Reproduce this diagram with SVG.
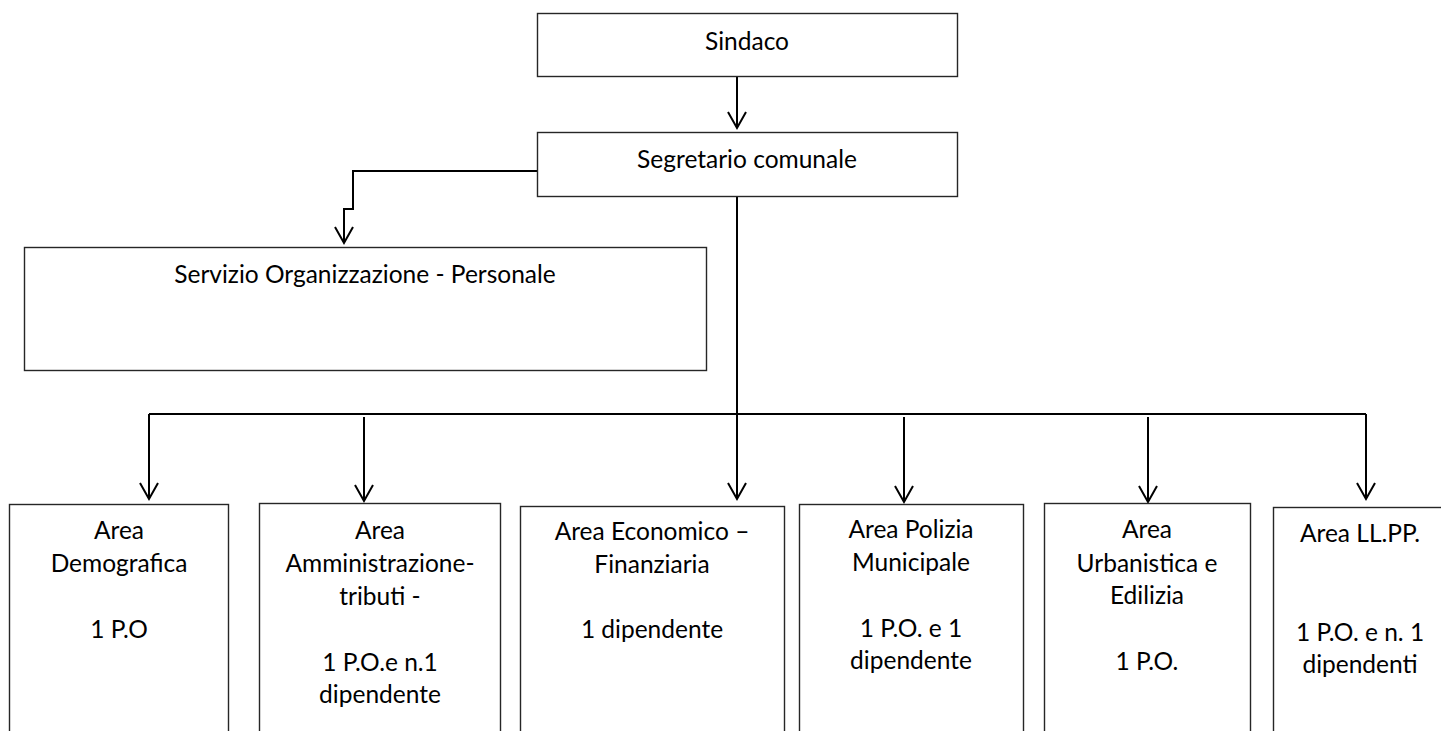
<svg xmlns="http://www.w3.org/2000/svg" width="1441" height="731" viewBox="0 0 1441 731">
<style>
.box{fill:#fff;stroke:#262626;stroke-width:1.4}
.t{font-family:Lato,"Liberation Sans",sans-serif;font-size:24.5px;fill:#000;text-anchor:middle}
.c{fill:none;stroke:#000;stroke-width:2}
</style>
<defs>
<marker id="arr" markerUnits="userSpaceOnUse" markerWidth="22" markerHeight="22" viewBox="-18 -11 22 22" refX="0" refY="0" orient="auto">
<path d="M-16,-9 L0,0 L-16,9" fill="none" stroke="#000" stroke-width="2"/>
</marker>
</defs>
<rect width="1441" height="731" fill="#fff"/>
<g id="connectors">
<path class="c" d="M737,76 V128" marker-end="url(#arr)"/>
<path class="c" d="M537,171 H353 V209 H344 V243" marker-end="url(#arr)"/>
<path class="c" d="M737,197 V499" marker-end="url(#arr)"/>
<path class="c" d="M149,414 H1366"/>
<path class="c" d="M149,414 V499" marker-end="url(#arr)"/>
<path class="c" d="M1366,414 V499" marker-end="url(#arr)"/>
<path class="c" d="M364,417 V501" marker-end="url(#arr)"/>
<path class="c" d="M904,417 V502" marker-end="url(#arr)"/>
<path class="c" d="M1148,417 V502" marker-end="url(#arr)"/>
</g>
<g id="sindaco">
<rect class="box" x="537.5" y="13.5" width="420" height="63"/>
<text class="t" x="747" y="50">Sindaco</text>
</g>
<g id="segretario">
<rect class="box" x="537.5" y="132.5" width="420" height="64"/>
<text class="t" x="747" y="168">Segretario comunale</text>
</g>
<g id="servizio">
<rect class="box" x="24.5" y="247.5" width="682" height="123"/>
<text class="t" x="365" y="283">Servizio Organizzazione - Personale</text>
</g>
<g id="demografica">
<rect class="box" x="9.5" y="504.5" width="219" height="240"/>
<text class="t" x="119" y="539">Area</text>
<text class="t" x="119" y="572">Demografica</text>
<text class="t" x="119" y="638">1 P.O</text>
</g>
<g id="amministrazione">
<rect class="box" x="259.5" y="503.5" width="241" height="240"/>
<text class="t" x="380" y="539">Area</text>
<text class="t" x="380" y="572">Amministrazione-</text>
<text class="t" x="380" y="605">tributi -</text>
<text class="t" x="380" y="671">1 P.O.e n.1</text>
<text class="t" x="380" y="703">dipendente</text>
</g>
<g id="economico">
<rect class="box" x="520.5" y="506.5" width="264" height="240"/>
<text class="t" x="652" y="540">Area Economico –</text>
<text class="t" x="652" y="573">Finanziaria</text>
<text class="t" x="652" y="638">1 dipendente</text>
</g>
<g id="polizia">
<rect class="box" x="799.5" y="504.5" width="224" height="240"/>
<text class="t" x="911" y="538">Area Polizia</text>
<text class="t" x="911" y="571">Municipale</text>
<text class="t" x="911" y="637">1 P.O. e 1</text>
<text class="t" x="911" y="669">dipendente</text>
</g>
<g id="urbanistica">
<rect class="box" x="1044.5" y="503.5" width="206" height="240"/>
<text class="t" x="1147" y="538">Area</text>
<text class="t" x="1147" y="572">Urbanistica e</text>
<text class="t" x="1147" y="604">Edilizia</text>
<text class="t" x="1147" y="670">1 P.O.</text>
</g>
<g id="llpp">
<rect class="box" x="1273.5" y="507.5" width="174" height="240"/>
<text class="t" x="1360" y="542">Area LL.PP.</text>
<text class="t" x="1360" y="641">1 P.O. e n. 1</text>
<text class="t" x="1360" y="673">dipendenti</text>
</g>
</svg>
